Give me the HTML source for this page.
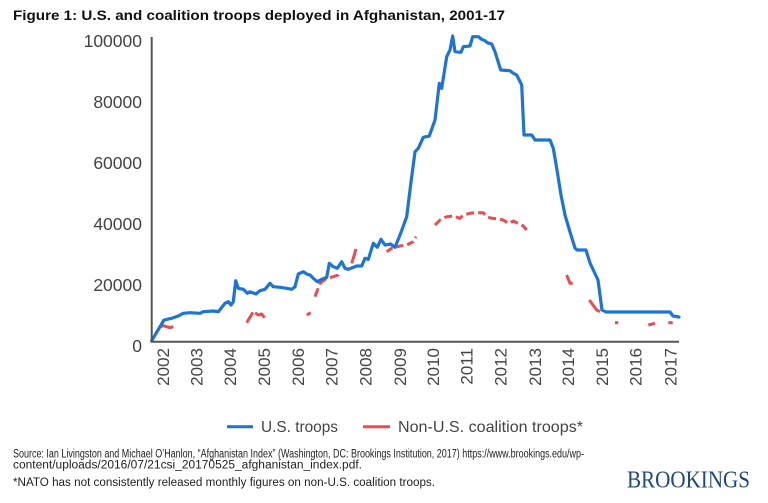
<!DOCTYPE html>
<html>
<head>
<meta charset="utf-8">
<style>
  html, body { margin: 0; padding: 0; background: #ffffff; }
  svg { display: block; }
</style>
</head>
<body>
<svg width="768" height="503" viewBox="0 0 768 503" xmlns="http://www.w3.org/2000/svg">
  <rect x="0" y="0" width="768" height="503" fill="#ffffff"/>

  <!-- Title -->
  <text x="13" y="20" font-family="Liberation Sans, sans-serif" font-weight="bold" font-size="14" fill="#111" textLength="492" lengthAdjust="spacingAndGlyphs">Figure 1: U.S. and coalition troops deployed in Afghanistan, 2001-17</text>

  <!-- Y axis labels -->
  <g font-family="Liberation Sans, sans-serif" font-size="17.5" fill="#444" text-anchor="end">
    <text x="142" y="47">100000</text>
    <text x="142" y="108">80000</text>
    <text x="142" y="169">60000</text>
    <text x="142" y="230">40000</text>
    <text x="142" y="291">20000</text>
    <text x="142" y="352">0</text>
  </g>

  <!-- X axis labels (rotated) -->
  <g font-family="Liberation Sans, sans-serif" font-size="17" fill="#444" text-anchor="end">
    <text transform="translate(169,348) rotate(-90)">2002</text>
    <text transform="translate(202.7,348) rotate(-90)">2003</text>
    <text transform="translate(236,348) rotate(-90)">2004</text>
    <text transform="translate(270,348) rotate(-90)">2005</text>
    <text transform="translate(304,348) rotate(-90)">2006</text>
    <text transform="translate(337.7,348) rotate(-90)">2007</text>
    <text transform="translate(371.7,348) rotate(-90)">2008</text>
    <text transform="translate(406,348) rotate(-90)">2009</text>
    <text transform="translate(439,348) rotate(-90)">2010</text>
    <text transform="translate(472.7,348) rotate(-90)">2011</text>
    <text transform="translate(506.7,348) rotate(-90)">2012</text>
    <text transform="translate(541,348) rotate(-90)">2013</text>
    <text transform="translate(574,348) rotate(-90)">2014</text>
    <text transform="translate(608,348) rotate(-90)">2015</text>
    <text transform="translate(641.7,348) rotate(-90)">2016</text>
    <text transform="translate(676.7,348) rotate(-90)">2017</text>
  </g>

  <!-- Red series (non-US coalition) -->
  <g fill="none" stroke="#ee4a50" stroke-width="3" stroke-linejoin="round" stroke-linecap="butt">
    <polyline points="160,326.7 163.3,325.7 170,327.7 173.3,326.7"/>
    <polyline points="246.7,322.7 253.3,311.7 258.3,315 261.7,314 265,318.3" stroke-dasharray="12 3"/>
    <polyline points="306.7,315 310.7,312.7"/>
    <polyline points="315,296.7 320,283.3 326.7,278.3 333.3,276.7 338.3,275 340,271.7" stroke-dasharray="9 4"/>
    <polyline points="351.7,263.3 354,256 356,249"/>
    <polyline points="386.7,251.7 391.7,248.3 400,246 406.7,245 413.3,241.7 416,236.7" stroke-dasharray="7 4"/>
    <polyline points="435,225 440,220 446.7,216.7 453.3,216 460,218.3 463.3,215 470,213.3 476.7,212.7 483.3,212.7 486.7,216.7 491.7,218.3 498.3,219 503.3,220 508.3,223.3 513.3,221 523.3,226 526.7,230" stroke-dasharray="8 4"/>
    <polyline points="566.7,275 570,283.3 572.7,283.3"/>
    <polyline points="589.3,300 596.7,310 600,311.7"/>
    <polyline points="615,322.7 618.3,322.7"/>
    <polyline points="648.3,325 655,323.3"/>
    <polyline points="668.3,322.7 672.7,322.7"/>
  </g>

  <!-- Blue series (US troops) -->
  <polyline fill="none" stroke="#1c74d4" stroke-width="3.2" stroke-linejoin="round" stroke-linecap="round"
    points="151.7,340.7 164,320 171.7,318.3 178.3,316 183.3,313.3 190,312.7 200,313.3 203.3,311.7 213.3,311 218.3,311.7 225,303.3 228.3,301.7 231,305 233.3,301.7 235.7,280.7 238.3,288.3 243.3,289.3 247.3,293.3 250,291.7 256,294 260,290.7 265,289.3 270,283.3 273.3,286.7 280,287.3 286.7,288.3 291.7,289.3 295,286.7 298.3,274 303.3,271.7 306.7,274 310,275 313.3,278.3 317.3,281.7 321.7,279.3 326.7,277.3 329.3,263.3 333.3,266.7 337.3,268.3 341.7,261.7 345,268.3 348.3,269.3 356.7,266 361.7,266 365,258.3 368.3,259.3 373.3,243.3 377.3,247.3 381,239.3 385,245 390.7,244 395,247.3 400,235 406.7,216.7 410,190 415,151.7 418.3,148.3 423.3,137.3 429.3,136 435,120 439.3,83.3 441.7,88.3 446.7,56.7 450,50 452.7,36 455,51.7 461,52.3 463.3,46.7 470,46 472.7,36.7 478.3,36.7 481.7,39.3 485,40.7 487.3,42.7 491.7,44 495,51.7 500.7,70 510,70.7 513.3,73.3 516.7,75 521.7,85 524,135 531.7,135 535,140 550,140 553.3,148.3 557,170 561,195 565,215 570,232 575,248 577,250 586,250 590,263 598,280 602,310 606,312 670,312 673,316 679,317"/>

  <!-- Axes -->
  <line x1="151.7" y1="37" x2="151.7" y2="342" stroke="#555" stroke-width="2"/>
  <line x1="150.7" y1="341.7" x2="679" y2="341.7" stroke="#555" stroke-width="2"/>

  <!-- Legend -->
  <line x1="227" y1="426.7" x2="253" y2="426.7" stroke="#1c74d4" stroke-width="3"/>
  <text x="261" y="432" font-family="Liberation Sans, sans-serif" font-size="16" fill="#444" textLength="77" lengthAdjust="spacingAndGlyphs">U.S. troops</text>
  <line x1="363" y1="426.7" x2="390" y2="426.7" stroke="#ee4a50" stroke-width="3"/>
  <text x="398" y="432" font-family="Liberation Sans, sans-serif" font-size="16" fill="#444" textLength="185" lengthAdjust="spacingAndGlyphs">Non-U.S. coalition troops*</text>

  <!-- Source / notes -->
  <g font-family="Liberation Sans, sans-serif" font-size="11.5" fill="#222">
    <text x="13" y="457.3" textLength="571" lengthAdjust="spacingAndGlyphs">Source: Ian Livingston and Michael O’Hanlon, “Afghanistan Index” (Washington, DC: Brookings Institution, 2017) https://www.brookings.edu/wp-</text>
    <text x="13" y="468.3" textLength="349" lengthAdjust="spacingAndGlyphs">content/uploads/2016/07/21csi_20170525_afghanistan_index.pdf.</text>
    <text x="13" y="486" textLength="422" lengthAdjust="spacingAndGlyphs">*NATO has not consistently released monthly figures on non-U.S. coalition troops.</text>
  </g>

  <!-- Logo -->
  <text x="627" y="487.7" font-family="Liberation Serif, serif" font-size="24" fill="#1e4b7a" textLength="123" lengthAdjust="spacingAndGlyphs">BROOKINGS</text>
</svg>
</body>
</html>
